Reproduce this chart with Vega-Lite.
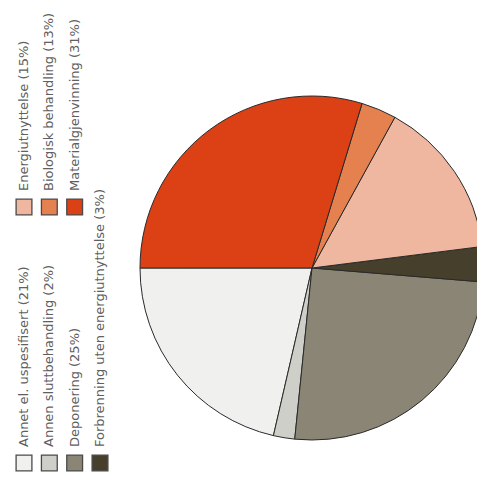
{
  "$schema": "https://vega.github.io/schema/vega-lite/v6.json",
  "padding": {"left": 0, "top": 0, "right": -5, "bottom": -50},
  "background": "white",
  "spacing": 0,
  "config": {"view": {"stroke": null}},
  "datasets": {
    "avfall": [
      {"nr": 1, "kategori": "Annet el. uspesifisert (21%)", "type": "Sluttbehandling", "andel": 21.4},
      {"nr": 2, "kategori": "Annen sluttbehandling (2%)", "type": "Sluttbehandling", "andel": 2.0},
      {"nr": 3, "kategori": "Deponering (25%)", "type": "Sluttbehandling", "andel": 25.3},
      {"nr": 4, "kategori": "Forbrenning uten energiutnyttelse (3%)", "type": "Sluttbehandling", "andel": 3.3},
      {"nr": 5, "kategori": "Energiutnyttelse (15%)", "type": "Gjenvinning", "andel": 15.0},
      {"nr": 6, "kategori": "Biologisk behandling (13%)", "type": "Gjenvinning", "andel": 3.3},
      {"nr": 7, "kategori": "Materialgjenvinning (31%)", "type": "Gjenvinning", "andel": 29.7}
    ]
  },
  "hconcat": [
    {
      "width": 138,
      "height": 486,
      "data": {"name": "avfall"},
      "transform": [
        {"window": [{"op": "row_number", "as": "plass"}], "groupby": ["type"], "sort": [{"field": "nr"}]}
      ],
      "encoding": {
        "x": {"field": "plass", "type": "quantitative", "scale": {"domain": [1, 4], "range": [24, 100]}, "axis": null},
        "y": {"field": "type", "type": "nominal", "scale": {"type": "point", "padding": 0, "domain": ["Gjenvinning", "Sluttbehandling"], "range": [207, 463]}, "axis": null}
      },
      "layer": [
        {
          "mark": {"type": "point", "shape": "square", "size": 250, "filled": true, "opacity": 1, "stroke": "#4a4a4a", "strokeWidth": 1.3},
          "encoding": {
            "color": {"field": "kategori", "type": "nominal", "legend": null,
              "scale": {"domain": ["Annet el. uspesifisert (21%)", "Annen sluttbehandling (2%)", "Deponering (25%)", "Forbrenning uten energiutnyttelse (3%)", "Energiutnyttelse (15%)", "Biologisk behandling (13%)", "Materialgjenvinning (31%)"],
                "range": ["#f0f0ee", "#cfcfca", "#8a8574", "#463f2c", "#efb6a0", "#e5804f", "#dc4015"]}}
          }
        },
        {
          "mark": {"type": "text", "angle": 270, "align": "left", "baseline": "middle", "dx": 16, "font": "DejaVu Sans", "fontSize": 13, "color": "#606060"},
          "encoding": {"text": {"field": "kategori"}}
        }
      ]
    },
    {
      "width": 344,
      "height": 536,
      "data": {"name": "avfall"},
      "mark": {"type": "arc", "radius": 172, "stroke": "#2a2a2a", "strokeWidth": 1},
      "encoding": {
        "theta": {"field": "andel", "type": "quantitative", "stack": true, "scale": {"range": [-1.5708, 4.7124]}},
        "order": {"field": "nr", "sort": "descending"},
        "color": {"field": "kategori", "type": "nominal", "legend": null,
          "scale": {"domain": ["Annet el. uspesifisert (21%)", "Annen sluttbehandling (2%)", "Deponering (25%)", "Forbrenning uten energiutnyttelse (3%)", "Energiutnyttelse (15%)", "Biologisk behandling (13%)", "Materialgjenvinning (31%)"],
            "range": ["#f0f0ee", "#cfcfca", "#8a8574", "#463f2c", "#efb6a0", "#e5804f", "#dc4015"]}}
      }
    }
  ]
}
